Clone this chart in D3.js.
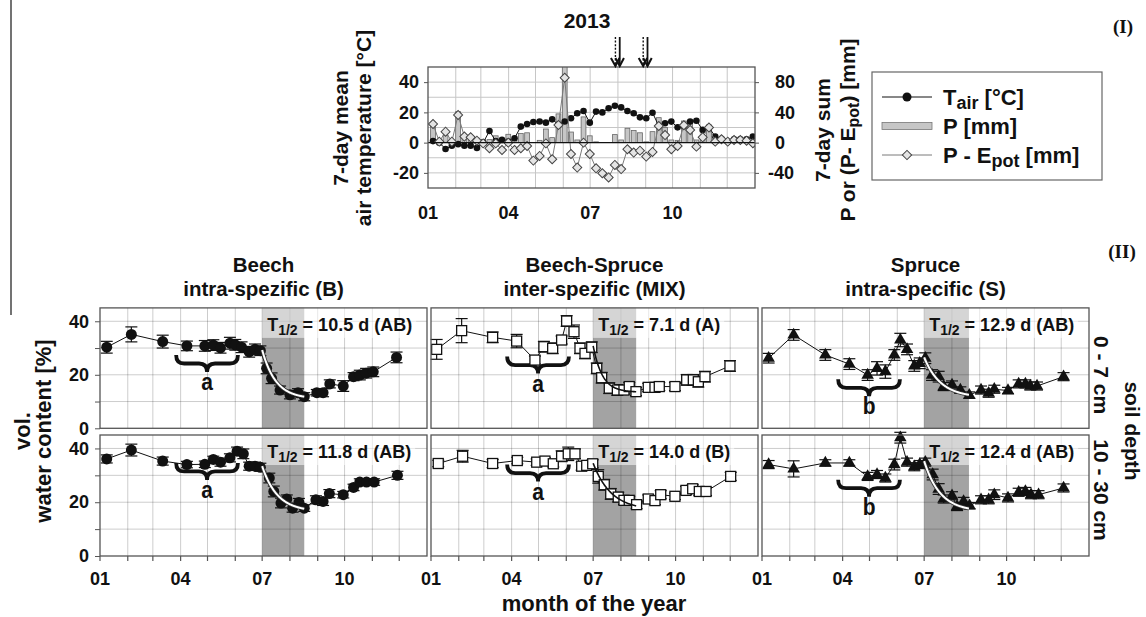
<!DOCTYPE html>
<html>
<head>
<meta charset="utf-8">
<script src="https://cdn.jsdelivr.net/npm/d3@7"></script>
<style>
  body { margin: 0; background: #fff; }
  svg text { font-family: "Liberation Sans", Arial, sans-serif; font-weight: bold; fill: #111; }
  svg text.serif { font-family: "Liberation Serif", "Times New Roman", serif; }
</style>
</head>
<body>
<svg id="fig" width="1146" height="617"></svg>
<script>
// ---------------- data ----------------
// month boundaries (day of year, 2013) and axis labels
const monthStarts = [0, 31, 59, 90, 120, 151, 181, 212, 243, 273, 304, 334, 365];
const monthLabels = ["01", "04", "07", "10"];
const monthLabelDays = [0, 90, 181, 273];

// weekly climate record 2013 (week 1..52)
const weeks = d3.range(1, 53);
const tAir = [1, 0, -4.2, -2, -1, -2, -2, -3.5, 0, 7.7, 1, 1.8, 0.7, 2.9, 10.6, 12.3, 13.6, 14, 13.2, 15.4,
  12, 14, 16.1, 19.4, 20.9, 13.2, 20.5, 20, 22.7, 24.4, 23.3, 20.9, 19.4, 16.7, 16.1, 19.8, 11, 12.8, 13.9, 10.1,
  11, 13.9, 14.5, 8.4, 10.1, 4, 2.6, 0.7, 2.2, 2.2, 2.2, 4];
const precip = [22, 4, 10, 2, 41, 10, 8, 6, 4, 4, 9, 3, 11, 3, 12, 13, 0, 3, 18, 6.6,
  38, 110, 14, 3.5, 34, 9, 1, 0, 0, 10.6, 3.5, 19, 16, 13, 1, 14.5, 33, 20, 3.5, 3,
  28.6, 25.5, 3.5, 8, 23, 3.5, 2, 1, 1, 1, 1, 1];
const waterBalance = [24.6, 1.3, 14.5, 1.3, 36.5, 8, 7, 2.6, -1, -7.5, -1, -9.7, 0, -9.7, -7.5, -4.4, -23.8, -17.6, -1, -22,
  23.3, 85.8, -15, -33, 0, -15, -34, -40.5, -46, -29.5, -35, -8.8, -13.2, -10.6, -18.5, -12.3, 22, 10, -8.8, -4.4,
  23, 16.7, -5.3, 7, 20, 1.3, 4.4, 1.3, 3.5, 3.5, 2.6, -0.9];
// drying-period marks (day of year)
const arrowDays = [212, 243];

// soil water content [%], mean ± error, per stand and depth
const beechTopDays = [7.5, 35, 70, 97, 117, 126.5, 134.5, 145, 151, 158, 166.5, 173, 179, 186, 191.5, 201, 212, 221, 228, 242, 249, 256.5, 271.5, 283, 290, 297, 305, 331];
const beechTopVwc = [30.3, 35.1, 32.4, 30.8, 30.8, 31.1, 30.1, 31.8, 31.2, 30.3, 28.6, 29.5, 29.0, 22.4, 18.7, 14.3, 12.5, 13.3, 11.8, 13.3, 13.3, 16.6, 15.8, 19.3, 19.9, 20.6, 21.1, 26.5];
const beechTopErr = [2.2, 2.8, 2.4, 1.8, 2.0, 2.0, 2.0, 2.2, 2.0, 2.0, 2.0, 2.0, 1.8, 2.0, 2.0, 1.5, 1.5, 1.5, 1.5, 1.2, 1.5, 1.5, 2.0, 1.5, 1.8, 1.8, 1.8, 2.0];

const beechSubDays = [7.5, 35, 70, 97, 117, 126.5, 134.5, 145, 153, 160, 166.5, 173, 179, 189, 194, 202, 208.5, 215, 222, 228, 241, 249, 256, 271.5, 283, 290, 297.5, 306, 332];
const beechSubVwc = [36.1, 39.4, 35.3, 34.0, 34.1, 35.9, 34.9, 36.5, 39.0, 38.0, 33.4, 33.4, 33.0, 29.0, 24.0, 19.7, 21.2, 17.8, 19.9, 17.8, 20.9, 20.3, 23.2, 22.8, 25.5, 27.5, 27.5, 27.5, 30.0];
const beechSubErr = [1.5, 2.2, 1.5, 1.2, 1.2, 1.2, 1.5, 1.5, 1.5, 1.8, 1.5, 1.5, 1.5, 1.8, 2.0, 1.8, 1.5, 1.5, 1.5, 1.2, 1.5, 1.5, 1.5, 1.2, 1.2, 1.2, 1.2, 1.2, 1.5];

const mixTopDays = [6.3, 34.2, 68.8, 95.6, 116, 126, 135.8, 145.8, 151.4, 159.6, 166.3, 171.9, 179.4, 185, 190.5, 199, 208, 215.4, 221.3, 228.8, 242.5, 250, 254.8, 272.3, 285.4, 292.8, 298.4, 305.8, 333.7];
const mixTopVwc = [29.5, 36.5, 34.0, 32.6, 25.5, 30.5, 29.9, 33.0, 40.1, 36.1, 29.9, 28.0, 30.3, 22.4, 18.9, 15.0, 14.3, 14.3, 15.6, 13.7, 15.3, 15.3, 15.6, 15.6, 18.1, 18.1, 17.4, 19.3, 23.3];
const mixTopErr = [3.7, 4.5, 2.0, 2.5, 1.5, 2.0, 2.0, 1.5, 2.0, 2.5, 2.0, 2.0, 2.0, 2.0, 2.0, 2.0, 2.0, 1.5, 1.5, 1.5, 1.5, 1.5, 1.5, 1.5, 2.0, 2.0, 2.0, 2.0, 2.0];

const mixSubDays = [8.1, 35.3, 68.8, 96.3, 118, 127.2, 136.5, 145.8, 153.2, 160.7, 168.2, 173.8, 180.5, 186.7, 193.4, 200.6, 209, 215.4, 221.3, 229.5, 242.5, 250, 256.4, 272.3, 284.6, 292.1, 299.5, 307, 334.5];
const mixSubVwc = [34.4, 37.1, 34.4, 35.5, 34.9, 35.3, 34.3, 37.1, 38.0, 38.0, 33.4, 33.7, 34.3, 29.6, 26.5, 23.1, 21.9, 20.7, 20.7, 19.1, 21.2, 20.6, 22.8, 22.2, 24.4, 25.0, 24.0, 24.0, 29.6];
const mixSubErr = [1.2, 2.2, 1.5, 1.2, 1.2, 1.2, 1.2, 2.0, 2.5, 1.8, 1.5, 1.5, 1.5, 2.5, 2.0, 2.0, 1.8, 1.5, 1.5, 1.5, 1.5, 1.5, 1.5, 1.2, 1.5, 1.5, 1.5, 1.5, 1.5];

const spruceTopDays = [7.4, 35.3, 70.7, 97.5, 117.9, 128.4, 137.7, 147.7, 154.4, 161.9, 170, 176, 182.3, 189.8, 197.2, 202.8, 212.1, 221.4, 231.4, 244.5, 253, 259.3, 274.6, 286.5, 294, 299.5, 307, 336.6];
const spruceTopVwc = [26.2, 34.9, 27.4, 24.0, 19.9, 22.4, 21.2, 27.4, 33.0, 29.5, 23.3, 24.3, 26.2, 19.9, 19.3, 15.6, 16.2, 14.3, 12.4, 14.3, 13.1, 14.6, 14.1, 16.6, 16.6, 15.8, 15.8, 19.3];
const spruceTopErr = [1.8, 2.0, 2.0, 2.0, 2.0, 2.5, 2.5, 2.0, 2.5, 2.0, 2.0, 2.0, 2.0, 2.0, 2.0, 1.5, 1.5, 1.2, 1.2, 1.5, 1.5, 1.5, 1.2, 1.5, 1.5, 1.5, 1.5, 1.5];

const spruceSubDays = [7.4, 35.3, 70.7, 97.5, 117.9, 128.4, 137.7, 147.7, 154.4, 161.9, 170, 176, 182.3, 190.5, 197.2, 202.8, 212.1, 217.7, 225, 231.7, 244.5, 253, 259.3, 274.6, 286.5, 294, 300.3, 308.7, 336.6];
const spruceSubVwc = [34.0, 32.4, 34.6, 34.6, 29.6, 30.3, 29.0, 34.0, 44.0, 34.9, 33.2, 34.0, 34.9, 30.3, 24.9, 21.2, 22.4, 18.4, 20.3, 18.7, 20.9, 20.9, 22.8, 21.6, 23.7, 24.0, 22.8, 22.8, 25.3];
const spruceSubErr = [1.5, 3.0, 1.2, 1.2, 1.5, 1.5, 1.5, 2.0, 2.0, 1.5, 1.5, 1.5, 1.5, 2.0, 2.0, 1.5, 1.5, 1.5, 1.5, 1.2, 1.5, 1.5, 1.8, 1.5, 1.5, 1.5, 1.5, 1.5, 1.5];

// half-life of the summer dry-down (days) and significance groups
// order: beech 0-7, beech 10-30, mix 0-7, mix 10-30, spruce 0-7, spruce 10-30
const halfLives = [10.5, 11.8, 7.1, 14.0, 12.9, 12.4];
const halfLifeGroups = ["AB", "AB", "A", "B", "AB", "AB"];
const fitStart = [29.3, 33.4, 30.8, 34.5, 26.5, 35.3];
const fitFloor = [11.0, 16.5, 13.5, 17.0, 11.5, 16.5];
const fitEndDays = [228, 228, 229, 229, 231, 231];
const springGroups = ["a", "a", "a", "a", "b", "b"];
const springBraceLevel = [27.4, 34.6, 26.8, 34.0, 18.3, 28.4];
const springWindow = [85, 154];

// ---------------- drawing ----------------
const svg = d3.select("#fig");
const fmtSigned = d => String(d);

function addSubText(sel, parts, subSize) {
  // parts: [text, isSubscript]
  parts.forEach(([t, sub], i) => {
    const ts = sel.append("tspan").text(t);
    if (sub) ts.attr("font-size", subSize).attr("dy", 4);
    else if (i > 0 && parts[i - 1][1]) ts.attr("dy", -4);
  });
}
// bold label drawn slightly taller than the regular face
function tallText(parent, x, y, size, sy) {
  return parent.append("text").attr("transform", `translate(${x},${y}) scale(1,${sy})`).attr("font-size", size);
}

// left frame line
svg.append("line").attr("x1", 11).attr("x2", 11).attr("y1", 0).attr("y2", 315)
  .attr("stroke", "#444").attr("stroke-width", 1.5);

// ===== (I) weekly climate =====
const T = { x0: 428, x1: 755, y0: 67, y1: 188 };
const xTop = d3.scaleLinear().domain([0, 365]).range([T.x0, T.x1]);
const weekToDay = d3.scaleLinear().domain([1, 52]).range([5.6, 362.6]);
const yL = d3.scaleLinear().domain([-30, 50]).range([T.y1, T.y0]);
const yR = d3.scaleLinear().domain([-60, 100]).range([T.y1, T.y0]);

const climG = svg.append("g");
climG.append("defs").append("clipPath").attr("id", "clipTop")
  .append("rect").attr("x", T.x0).attr("y", T.y0).attr("width", T.x1 - T.x0).attr("height", T.y1 - T.y0);
climG.append("rect").attr("x", T.x0).attr("y", T.y0).attr("width", T.x1 - T.x0).attr("height", T.y1 - T.y0).attr("fill", "#fff");

climG.append("g").selectAll("line").data(monthStarts.slice(1, -1)).join("line")
  .attr("x1", d => xTop(d)).attr("x2", d => xTop(d)).attr("y1", T.y0).attr("y2", T.y1)
  .attr("stroke", "#c6c6c6").attr("stroke-width", 1);
climG.append("g").selectAll("line").data([-20, -10, 10, 20, 30, 40]).join("line")
  .attr("x1", T.x0).attr("x2", T.x1).attr("y1", d => yL(d)).attr("y2", d => yL(d))
  .attr("stroke", "#c6c6c6").attr("stroke-width", 1);

const plotTop = climG.append("g").attr("clip-path", "url(#clipTop)");
// precipitation bars
plotTop.append("g").selectAll("rect").data(weeks).join("rect")
  .attr("x", w => xTop(weekToDay(w)) - 2.4).attr("width", 4.8)
  .attr("y", (w, i) => yR(Math.max(0, precip[i])))
  .attr("height", (w, i) => Math.abs(yR(precip[i]) - yR(0)))
  .attr("fill", "#c6c6c6").attr("stroke", "#666").attr("stroke-width", 0.8);
// zero line
climG.append("line").attr("x1", T.x0).attr("x2", T.x1).attr("y1", yL(0)).attr("y2", yL(0))
  .attr("stroke", "#111").attr("stroke-width", 1.3);
// air temperature
plotTop.append("path").datum(weeks)
  .attr("d", d3.line().x(w => xTop(weekToDay(w))).y((w, i) => yL(tAir[i])))
  .attr("fill", "none").attr("stroke", "#111").attr("stroke-width", 1);
plotTop.append("g").selectAll("circle").data(weeks).join("circle")
  .attr("cx", w => xTop(weekToDay(w))).attr("cy", (w, i) => yL(tAir[i])).attr("r", 3.3).attr("fill", "#111");
// climatic water balance
plotTop.append("path").datum(weeks)
  .attr("d", d3.line().x(w => xTop(weekToDay(w))).y((w, i) => yR(waterBalance[i])))
  .attr("fill", "none").attr("stroke", "#7a7a7a").attr("stroke-width", 1);
plotTop.append("g").selectAll("rect").data(weeks).join("rect")
  .attr("width", 6.4).attr("height", 6.4).attr("x", -3.2).attr("y", -3.2)
  .attr("transform", (w, i) => `translate(${xTop(weekToDay(w))},${yR(waterBalance[i])}) rotate(45)`)
  .attr("fill", "#e4e4e4").attr("stroke", "#444").attr("stroke-width", 1);

climG.append("rect").attr("x", T.x0).attr("y", T.y0).attr("width", T.x1 - T.x0).attr("height", T.y1 - T.y0)
  .attr("fill", "none").attr("stroke", "#555").attr("stroke-width", 1.3);

// axes
const axL = climG.append("g").attr("transform", `translate(${T.x0},0)`)
  .call(d3.axisLeft(yL).tickValues([-20, 0, 20, 40]).tickSize(4).tickPadding(5).tickFormat(fmtSigned));
const axR = climG.append("g").attr("transform", `translate(${T.x1},0)`)
  .call(d3.axisRight(yR).tickValues([-40, 0, 40, 80]).tickSize(4).tickPadding(16).tickFormat(fmtSigned));
[axL, axR].forEach(a => {
  a.select(".domain").remove();
  a.selectAll(".tick line").attr("stroke", "#555");
  a.selectAll(".tick text").attr("font-size", 18).attr("fill", "#111")
    .attr("font-family", '"Liberation Sans", Arial, sans-serif').attr("font-weight", "bold");
});
axR.selectAll(".tick text").attr("dx", d => d < 0 ? -7 : 0);

climG.append("g").selectAll("text").data(monthLabelDays).join("text")
  .attr("x", d => xTop(d)).attr("y", 219).attr("text-anchor", "middle").attr("font-size", 18)
  .text((d, i) => monthLabels[i]);

// arrows marking the sampling dates
arrowDays.forEach(d => {
  const x = xTop(d);
  const g = climG.append("g").attr("stroke", "#111").attr("fill", "none");
  g.append("line").attr("x1", x - 2.5).attr("x2", x - 2.5).attr("y1", 37).attr("y2", 65)
    .attr("stroke-width", 1.4).attr("stroke-dasharray", "2,1.6");
  g.append("line").attr("x1", x + 1.8).attr("x2", x + 1.8).attr("y1", 37).attr("y2", 65).attr("stroke-width", 1.8);
  g.append("path").attr("d", `M${x - 7},${58} L${x - 2.5},${66} L${x + 1.5},${58}`).attr("stroke-width", 2);
  g.append("path").attr("d", `M${x - 2.5},${58} L${x + 1.8},${66} L${x + 6},${58}`).attr("stroke-width", 2);
});

svg.append("text").attr("x", 587).attr("y", 28).attr("text-anchor", "middle").attr("font-size", 21).text("2013");

// axis titles (I)
svg.append("text").attr("transform", "translate(348,128) rotate(-90)").attr("text-anchor", "middle")
  .attr("font-size", 21).text("7-day mean");
svg.append("text").attr("transform", "translate(371,128) rotate(-90)").attr("text-anchor", "middle")
  .attr("font-size", 21).text("air temperature [°C]");
svg.append("text").attr("transform", "translate(830,130) rotate(-90)").attr("text-anchor", "middle")
  .attr("font-size", 21).text("7-day sum");
addSubText(svg.append("text").attr("transform", "translate(855,130) rotate(-90)").attr("text-anchor", "middle")
  .attr("font-size", 21), [["P or (P- E", false], ["pot", true], [") [mm]", false]], 16);

// legend
const lg = svg.append("g");
lg.append("rect").attr("x", 872).attr("y", 72).attr("width", 230).attr("height", 108)
  .attr("fill", "#fff").attr("stroke", "#666").attr("stroke-width", 1.2);
const legY = [97, 126, 155];
lg.append("line").attr("x1", 882).attr("x2", 932).attr("y1", legY[0]).attr("y2", legY[0]).attr("stroke", "#111");
lg.append("circle").attr("cx", 907).attr("cy", legY[0]).attr("r", 4.5).attr("fill", "#111");
lg.append("rect").attr("x", 882).attr("y", legY[1] - 3.5).attr("width", 50).attr("height", 7)
  .attr("fill", "#c6c6c6").attr("stroke", "#777").attr("stroke-width", 0.8);
lg.append("line").attr("x1", 882).attr("x2", 932).attr("y1", legY[2]).attr("y2", legY[2]).attr("stroke", "#7a7a7a");
lg.append("rect").attr("x", -3.3).attr("y", -3.3).attr("width", 6.6).attr("height", 6.6)
  .attr("transform", `translate(907,${legY[2]}) rotate(45)`).attr("fill", "#e4e4e4").attr("stroke", "#444");
addSubText(lg.append("text").attr("x", 943).attr("y", legY[0] + 8).attr("font-size", 22),
  [["T", false], ["air", true], [" [°C]", false]], 18);
lg.append("text").attr("x", 943).attr("y", legY[1] + 8).attr("font-size", 22).text("P [mm]");
addSubText(lg.append("text").attr("x", 943).attr("y", legY[2] + 8).attr("font-size", 22),
  [["P - E", false], ["pot", true], [" [mm]", false]], 18);

svg.append("text").attr("class", "serif").attr("x", 1123).attr("y", 33).attr("text-anchor", "middle")
  .attr("font-size", 19).text("(I)");
svg.append("text").attr("class", "serif").attr("x", 1122).attr("y", 258).attr("text-anchor", "middle")
  .attr("font-size", 19).text("(II)");

// ===== (II) soil water content panels =====
const cols = [
  { x0: 100, title: ["Beech", "intra-spezific (B)"], marker: "circle", curve: "white" },
  { x0: 431, title: ["Beech-Spruce", "inter-spezific (MIX)"], marker: "square", curve: "black" },
  { x0: 762, title: ["Spruce", "intra-specific (S)"], marker: "triangle", curve: "white" }
];
const rows = [{ y0: 307.9, y1: 428.3 }, { y0: 435, y1: 556 }];
const PW = 327;
const series = [
  [beechTopDays, beechTopVwc, beechTopErr], [beechSubDays, beechSubVwc, beechSubErr],
  [mixTopDays, mixTopVwc, mixTopErr], [mixSubDays, mixSubVwc, mixSubErr],
  [spruceTopDays, spruceTopVwc, spruceTopErr], [spruceSubDays, spruceSubVwc, spruceSubErr]
];
const dryStart = 181;

cols.forEach((c, ci) => {
  const cx = c.x0 + PW / 2;
  svg.append("text").attr("x", cx).attr("y", 272).attr("text-anchor", "middle").attr("font-size", 20.5).text(c.title[0]);
  svg.append("text").attr("x", cx).attr("y", 295.5).attr("text-anchor", "middle").attr("font-size", 20.5).text(c.title[1]);

  rows.forEach((r, ri) => {
    const k = ci * 2 + ri;
    const [days, vwc, err] = series[k];
    const x = d3.scaleLinear().domain([0, 365]).range([c.x0, c.x0 + PW]);
    const y = d3.scaleLinear().domain([0, 45]).range([r.y1, r.y0]);
    const g = svg.append("g");

    g.append("rect").attr("x", c.x0).attr("y", r.y0).attr("width", PW).attr("height", r.y1 - r.y0).attr("fill", "#fff");
    // dry-down period
    g.append("rect").attr("x", x(dryStart)).attr("y", r.y0).attr("width", x(fitEndDays[k]) - x(dryStart))
      .attr("height", r.y1 - r.y0).attr("fill", "#a3a3a3");
    // grid
    g.append("g").selectAll("line").data(monthStarts.slice(1, -1)).join("line")
      .attr("x1", d => x(d)).attr("x2", d => x(d)).attr("y1", r.y0).attr("y2", r.y1)
      .attr("stroke", "#000").attr("stroke-opacity", 0.2);
    g.append("g").selectAll("line").data([10, 20, 30, 40]).join("line")
      .attr("x1", c.x0).attr("x2", c.x0 + PW).attr("y1", d => y(d)).attr("y2", d => y(d))
      .attr("stroke", "#000").attr("stroke-opacity", 0.2);

    // half-life label with light backing box
    const lab = g.append("text").attr("x", x(dryStart) + 5).attr("y", r.y0 + 23).attr("font-size", 18);
    addSubText(lab, [["T", false], ["1/2", true], [` = ${halfLives[k].toFixed(1)} d (${halfLifeGroups[k]})`, false]], 14);
    const bb = lab.node().getBBox();
    g.insert("rect", "text").attr("x", x(dryStart)).attr("y", r.y0)
      .attr("width", bb.x + bb.width + 4 - x(dryStart)).attr("height", 30)
      .attr("fill", "#fff").attr("fill-opacity", 0.55);

    // spring group brace
    const bx1 = x(springWindow[0]), bx2 = x(springWindow[1]), bm = (bx1 + bx2) / 2;
    const by = y(springBraceLevel[k]), h = 17, q = 8;
    g.append("path")
      .attr("d", `M${bx1},${by} Q${bx1},${by + h / 2} ${bx1 + q},${by + h / 2} L${bm - q},${by + h / 2} ` +
        `Q${bm},${by + h / 2} ${bm},${by + h} Q${bm},${by + h / 2} ${bm + q},${by + h / 2} ` +
        `L${bx2 - q},${by + h / 2} Q${bx2},${by + h / 2} ${bx2},${by}`)
      .attr("fill", "none").attr("stroke", "#111").attr("stroke-width", 3.8);
    tallText(g, bm, by + 35, 21, 1.15).attr("text-anchor", "middle").text(springGroups[k]);

    // series line, error bars, markers
    g.append("path").datum(days)
      .attr("d", d3.line().x(d => x(d)).y((d, i) => y(vwc[i])))
      .attr("fill", "none").attr("stroke", "#111").attr("stroke-width", 1);
    const eb = g.append("g").attr("stroke", "#111").attr("stroke-width", 1.2);
    days.forEach((d, i) => {
      const px = x(d), lo = y(vwc[i] - err[i]), hi = y(vwc[i] + err[i]);
      eb.append("line").attr("x1", px).attr("x2", px).attr("y1", lo).attr("y2", hi);
      eb.append("line").attr("x1", px - 6).attr("x2", px + 6).attr("y1", lo).attr("y2", lo);
      eb.append("line").attr("x1", px - 6).attr("x2", px + 6).attr("y1", hi).attr("y2", hi);
    });
    const mk = g.append("g");
    if (c.marker === "circle") {
      mk.selectAll("circle").data(days).join("circle")
        .attr("cx", d => x(d)).attr("cy", (d, i) => y(vwc[i])).attr("r", 5.5).attr("fill", "#111");
    } else if (c.marker === "square") {
      mk.selectAll("rect").data(days).join("rect")
        .attr("x", d => x(d) - 5).attr("y", (d, i) => y(vwc[i]) - 5).attr("width", 10).attr("height", 10)
        .attr("fill", "#fff").attr("stroke", "#111").attr("stroke-width", 1.3);
    } else {
      mk.selectAll("path").data(days).join("path")
        .attr("d", d3.symbol(d3.symbolTriangle).size(68))
        .attr("transform", (d, i) => `translate(${x(d)},${y(vwc[i])})`).attr("fill", "#111");
    }

    // exponential dry-down fit from the stated half-life
    const ts = d3.range(0, fitEndDays[k] - dryStart + 0.01, 0.5);
    const fit = d3.line().x(t => x(dryStart + t))
      .y(t => y(fitFloor[k] + (fitStart[k] - fitFloor[k]) * Math.pow(0.5, t / halfLives[k])));
    if (c.curve === "white") {
      g.append("path").datum(ts).attr("d", fit).attr("fill", "none").attr("stroke", "#333").attr("stroke-width", 3.6);
      g.append("path").datum(ts).attr("d", fit).attr("fill", "none").attr("stroke", "#fff").attr("stroke-width", 2);
    } else {
      g.append("path").datum(ts).attr("d", fit).attr("fill", "none").attr("stroke", "#111").attr("stroke-width", 1.6);
    }

    // frame
    g.append("rect").attr("x", c.x0).attr("y", r.y0).attr("width", PW).attr("height", r.y1 - r.y0)
      .attr("fill", "none").attr("stroke", "#555").attr("stroke-width", 1.3);

    if (ci === 0) {
      const ay = g.append("g").attr("transform", `translate(${c.x0},0)`)
        .call(d3.axisLeft(y).tickValues([0, 10, 20, 30, 40]).tickSize(5).tickPadding(6).tickFormat(d => d % 20 === 0 ? d : ""));
      ay.select(".domain").remove();
      ay.selectAll(".tick line").attr("stroke", "#555");
      ay.selectAll(".tick text").attr("font-size", 18).attr("fill", "#111")
        .attr("font-family", '"Liberation Sans", Arial, sans-serif').attr("font-weight", "bold");
    }
    if (ri === 1) {
      g.append("g").selectAll("line").data(monthStarts.slice(0, -1)).join("line")
        .attr("x1", d => x(d)).attr("x2", d => x(d)).attr("y1", r.y1).attr("y2", r.y1 + 5)
        .attr("stroke", "#555").attr("stroke-width", 1.2);
      g.append("g").selectAll("text").data(monthLabelDays).join("text")
        .attr("x", d => x(d)).attr("y", 585).attr("text-anchor", "middle").attr("font-size", 18)
        .text((d, i) => monthLabels[i]);
    }
  });
});

// axis titles (II)
svg.append("text").attr("x", 594).attr("y", 611).attr("text-anchor", "middle").attr("font-size", 22).text("month of the year");
svg.append("text").attr("transform", "translate(30,431) rotate(-90)").attr("text-anchor", "middle").attr("font-size", 22).text("vol.");
svg.append("text").attr("transform", "translate(51,431) rotate(-90)").attr("text-anchor", "middle").attr("font-size", 22).text("water content [%]");
svg.append("text").attr("transform", "translate(1094,375) rotate(90)").attr("text-anchor", "middle").attr("font-size", 21).text("0 - 7 cm");
svg.append("text").attr("transform", "translate(1094,490) rotate(90)").attr("text-anchor", "middle").attr("font-size", 21).text("10 - 30 cm");
svg.append("text").attr("transform", "translate(1125,431) rotate(90)").attr("text-anchor", "middle").attr("font-size", 21).text("soil depth");
</script>
</body>
</html>
